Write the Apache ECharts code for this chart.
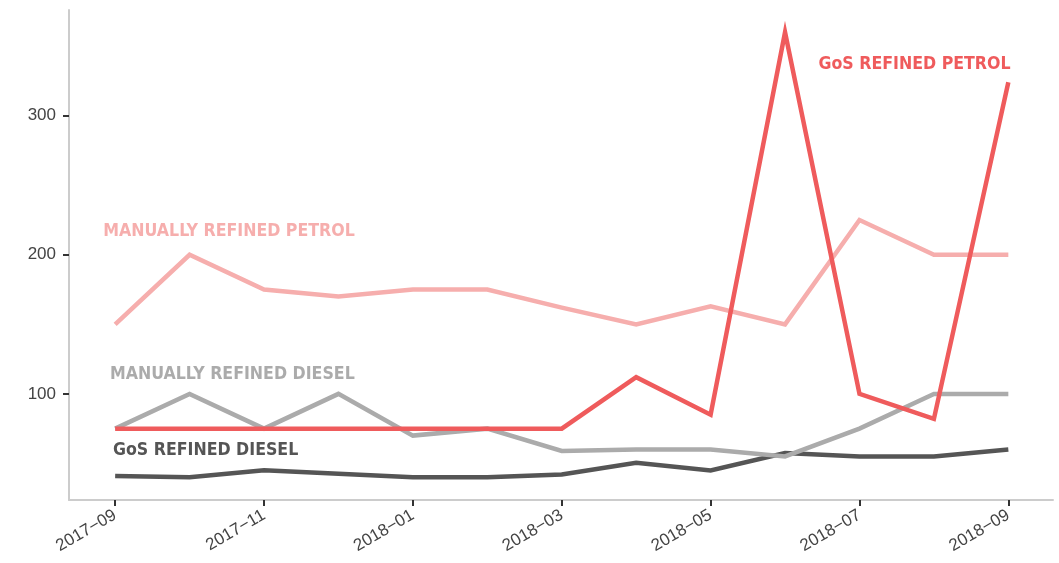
<!DOCTYPE html>
<html><head><meta charset="utf-8">
<script src="https://cdn.jsdelivr.net/npm/echarts@6/dist/echarts.min.js"></script>
<style>html,body{margin:0;padding:0;background:#fff}#c{width:1059px;height:563px}</style>
</head><body><div id="c"></div>
<script>
const months = ['2017−09','2017−10','2017−11','2017−12','2018−01','2018−02','2018−03','2018−04','2018−05','2018−06','2018−07','2018−08','2018−09'];
const tickMonths = ['2017−09','2017−11','2018−01','2018−03','2018−05','2018−07','2018−09'];
const yTicks = [100, 200, 300];
const gosPetrol = [75,75,75,75,75,75,75,112,85,360,100,82,324];
const manualPetrol = [150,200,175,170,175,175,162,150,163,150,225,200,200];
const manualDiesel = [75,100,75,100,70,75,59,60,60,55,75,100,100];
const gosDiesel = [41,40,45,42.5,40,40,42,50.5,45,57.5,55,55,60];
const seriesNames = ['GoS REFINED PETROL','MANUALLY REFINED PETROL','MANUALLY REFINED DIESEL','GoS REFINED DIESEL'];
const colors = ['#EF5B5C','#F6AEAD','#ABABAB','#555555'];
// label anchors (month index, value) in data space
const labelAnchors = [[12.03,337,'right'],[-0.16,217,'left'],[-0.07,114,'left'],[-0.03,59,'left']];

const dataSets = [gosPetrol, manualPetrol, manualDiesel, gosDiesel];
const font = '"Liberation Sans Narrow","DejaVu Sans Condensed","Liberation Sans",sans-serif';
const tickFont = '"Liberation Sans",Arial,sans-serif';
const chart = echarts.init(document.getElementById('c'));
const series = dataSets.map((d, i) => ({
  name: seriesNames[i], type: 'line', z: 10 - i,
  data: d.map((v, k) => [k, v]),
  showSymbol: false, symbol: 'none',
  lineStyle: {color: colors[i], width: 4.5, cap: 'butt', join: 'miter'},
  itemStyle: {color: colors[i]},
  markPoint: {
    symbol: 'circle', symbolSize: 1, silent: true,
    itemStyle: {color: 'rgba(0,0,0,0)'},
    data: [{coord: [labelAnchors[i][0], labelAnchors[i][1]], value: seriesNames[i]}],
    label: {show: true, position: 'inside', formatter: seriesNames[i], color: colors[i],
      fontFamily: font, fontWeight: 'bold', fontSize: 17.6, align: labelAnchors[i][2], verticalAlign: 'middle'}
  }
}));
const tickIdx = tickMonths.map(m => months.indexOf(m));
chart.setOption({
  animation: false,
  grid: {left: 69, right: 6, top: 10, bottom: 63},
  xAxis: {
    type: 'value', min: -0.62, max: 12.6,
    splitLine: {show: false},
    axisLine: {show: true, onZero: false, lineStyle: {color: '#cccccc', width: 2}},
    axisTick: {show: true, customValues: tickIdx, length: 6, lineStyle: {color: '#333', width: 2}},
    axisLabel: {customValues: tickIdx, formatter: v => months[Math.round(v)] || '', rotate: 30,
      color: '#444', fontSize: 17, fontFamily: tickFont, margin: 14}
  },
  yAxis: {
    type: 'value', min: 23.7, max: 376,
    splitLine: {show: false},
    axisLine: {show: true, onZero: false, lineStyle: {color: '#cccccc', width: 2}},
    axisTick: {show: true, customValues: yTicks, length: 6, lineStyle: {color: '#333', width: 2}},
    axisLabel: {customValues: yTicks, color: '#444', fontSize: 17, fontFamily: tickFont, margin: 13}
  },
  series: series
});
</script></body></html>
